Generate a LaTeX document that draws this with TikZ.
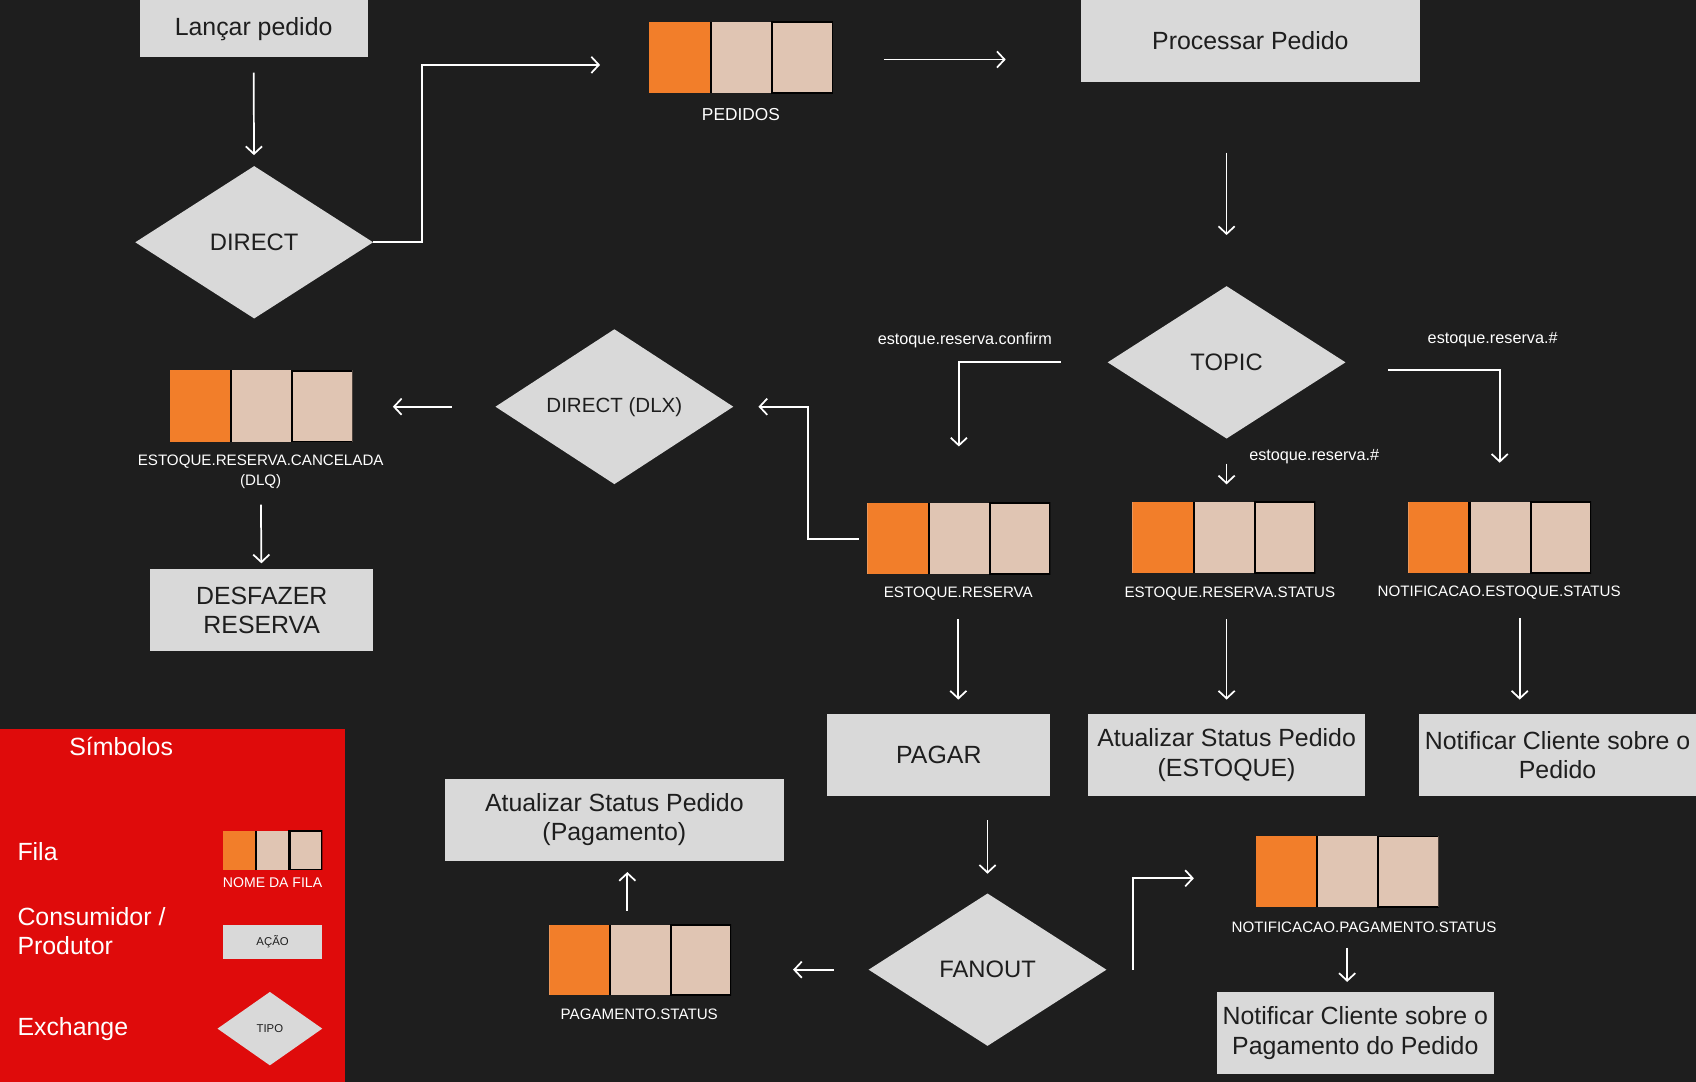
\documentclass[tikz,border=0pt]{standalone}
\usepackage{fontspec}
\setmainfont{Liberation Sans}
\usetikzlibrary{shapes.geometric, positioning, arrows.meta, calc}

\definecolor{fundo}{HTML}{1E1E1E}
\definecolor{cinza}{HTML}{D9D9D9}
\definecolor{laranja}{HTML}{F27E2A}
\definecolor{bege}{HTML}{E0C5B3}
\definecolor{vermelho}{HTML}{DF0B0B}

\tikzset{
  caixa/.style={fill=cinza, text=fundo, inner sep=0, minimum width=206, minimum height=76, align=center, font=\fontsize{23}{27}\selectfont},
  troca/.style={diamond, fill=cinza, text=fundo, inner sep=0, minimum width=220, minimum height=141, font=\fontsize{22}{26}\selectfont},
  fila/.style={fill=bege, inner sep=0, minimum width=169, minimum height=66,
    path picture={
      \coordinate (sw) at (path picture bounding box.south west);
      \coordinate (ne) at (path picture bounding box.north east);
      \fill[laranja] (sw) rectangle ($(sw|-ne)!0.33!(ne)$);
      \draw[black, line width=2] ($(sw)!0.335!(sw-|ne)$) -- ($(sw|-ne)!0.335!(ne)$)
        ($(sw)!0.67!(sw-|ne)$) rectangle (ne);
    }},
  rotulo/.style={text=white, inner sep=0, align=center, font=\fontsize{14}{18}\selectfont},
  chave/.style={text=white, inner sep=0, font=\fontsize{15}{18}\selectfont},
  legenda/.style={text=white, inner sep=0, anchor=west, align=left, font=\fontsize{23}{27}\selectfont},
  seta/.style={-{Straight Barb[length=7pt, width=15pt]}, draw=white, line width=1.6},
}

\begin{document}
\begin{tikzpicture}[x=1pt, y=-1pt]
  \fill[fundo] (0,0) rectangle (1568,1000);
  \useasboundingbox (0,0) rectangle (1568,1000);

  % pedidos
  \node[caixa, minimum width=211, minimum height=53] (lancar) at (234.5,26.5) {Lançar pedido};
  \node[troca] (direct) at (235,224) {DIRECT};
  \node[fila, minimum width=170] (pedidos) at (685,53) {};
  \node[rotulo, font=\fontsize{16}{20}\selectfont] (pedidos-nome) at (685,106) {PEDIDOS};
  \node[caixa, minimum width=314] (processar) at (1156,38) {Processar Pedido};
  \node[troca] (topic) at (1134,335) {TOPIC};

  % chaves de roteamento
  \node[chave] (chave-confirm) at (892,315) {estoque.reserva.confirm};
  \node[chave] (chave-nes) at (1380,314) {estoque.reserva.\#};
  \node[chave] (chave-ers) at (1215,422) {estoque.reserva.\#};

  % filas de estoque
  \node[fila] (er) at (886.5,498) {};
  \node[rotulo] (er-nome) at (886,549) {ESTOQUE.RESERVA};
  \node[fila] (ers) at (1131.5,497) {};
  \node[rotulo] (ers-nome) at (1137,549) {ESTOQUE.RESERVA.STATUS};
  \node[fila] (nes) at (1386.5,497) {};
  \node[rotulo] (nes-nome) at (1386,548) {NOTIFICACAO.ESTOQUE.STATUS};

  % dead letter
  \node[troca, font=\fontsize{19}{23}\selectfont] (dlx) at (568,376) {DIRECT (DLX)};
  \node[fila] (erc) at (241.5,375.5) {};
  \node[rotulo] (erc-nome) at (241,436) {ESTOQUE.RESERVA.CANCELADA\\(DLQ)};
  \node[caixa] (desfazer) at (242,564) {DESFAZER\\RESERVA};

  % consumidores
  \node[caixa] (pagar) at (868,698) {PAGAR};
  \node[caixa, minimum width=256] (atualizar-estoque) at (1134,698) {Atualizar Status Pedido\\(ESTOQUE)};
  \node[caixa, minimum width=256] (notificar-pedido) at (1440,698) {Notificar Cliente sobre o\\Pedido};

  % pagamento
  \node[troca] (fanout) at (913,896.5) {FANOUT};
  \node[fila, minimum width=168, minimum height=65] (ps) at (592,887.5) {};
  \node[rotulo] (ps-nome) at (591,938) {PAGAMENTO.STATUS};
  \node[caixa, minimum width=314] (atualizar-pagamento) at (568,758) {Atualizar Status Pedido\\(Pagamento)};
  \node[fila] (nps) at (1245.5,806) {};
  \node[rotulo] (nps-nome) at (1261,857) {NOTIFICACAO.PAGAMENTO.STATUS};
  \node[caixa, minimum width=256] (notificar-pagamento) at (1253,955) {Notificar Cliente sobre o\\Pagamento do Pedido};

  % legenda
  \fill[vermelho] (0,674) rectangle (319,1000);
  \node[legenda, anchor=center] (simbolos) at (112,690) {Símbolos};
  \node[legenda] (leg-fila) at (16,787) {Fila};
  \node[legenda] (leg-consumidor) at (16,860.5) {Consumidor /\\Produtor};
  \node[legenda] (leg-exchange) at (16,951) {Exchange};
  \node[fila, minimum width=92, minimum height=36] (leg-fila-q) at (252,786) {};
  \node[rotulo, font=\fontsize{13}{16}\selectfont] (leg-fila-nome) at (252,816) {NOME DA FILA};
  \node[caixa, minimum width=92, minimum height=32, font=\fontsize{10.5}{13}\selectfont] (leg-acao) at (252,871) {AÇÃO};
  \node[troca, minimum width=97, minimum height=68, font=\fontsize{10.5}{13}\selectfont] (leg-tipo) at (249.5,951) {TIPO};

  % conexoes
  \draw[seta, shorten <=14, shorten >=10] (lancar) -- (direct);
  \draw[seta, shorten >=45] (direct.east) -- ++(45,0) |- ([yshift=-7pt]pedidos.west);
  \draw[seta, shorten <=47, shorten >=69] ([yshift=-2pt]pedidos.east) -- ([yshift=-2pt]pedidos.east -| processar.west);
  \draw[seta, shorten <=65, shorten >=47] (processar.south -| topic.north) -- (topic.north);
  \draw[seta, shorten <=43, shorten >=52] (topic.west) -| (er.north);
  \draw[seta, shorten <=39, shorten >=36] ([yshift=-7pt]topic.east) -| (nes.north);
  \draw[seta, shorten <=23, shorten >=16] (topic.south) -- (topic.south |- ers.north);
  \draw[seta, shorten <=8, shorten >=23] (er.west) -- ++(-55,0) |- (dlx.east);
  \draw[seta, shorten <=40, shorten >=37] (dlx.west) -- (dlx.west -| erc.east);
  \draw[seta, shorten <=15, shorten >=5] (erc-nome) -- (desfazer);
  \draw[seta, shorten <=17, shorten >=13] (er-nome.south) -- (er-nome.south |- pagar.north);
  \draw[seta, shorten <=17, shorten >=13] (ers-nome.south -| atualizar-estoque.north) -- (atualizar-estoque.north);
  \draw[seta, shorten <=17, shorten >=13] ([xshift=19pt]nes-nome.south) -- ([xshift=19pt]nes-nome.south |- notificar-pedido.north);
  \draw[seta, shorten <=22, shorten >=18] (pagar.south -| fanout.north) -- (fanout.north);
  \draw[seta, shorten <=32, shorten >=57] (fanout.west) -- (fanout.west -| ps.east);
  \draw[seta, shorten <=13, shorten >=10] ([xshift=-12pt]ps.north) -- ([xshift=-12pt]ps.north |- atualizar-pagamento.south);
  \draw[seta, shorten >=57] ([xshift=24pt]fanout.east) |- ([yshift=-6pt]nps.west);
  \draw[seta, shorten <=14, shorten >=9] (nps.south |- nps-nome.south) -- (nps.south |- notificar-pagamento.north);
\end{tikzpicture}
\end{document}
